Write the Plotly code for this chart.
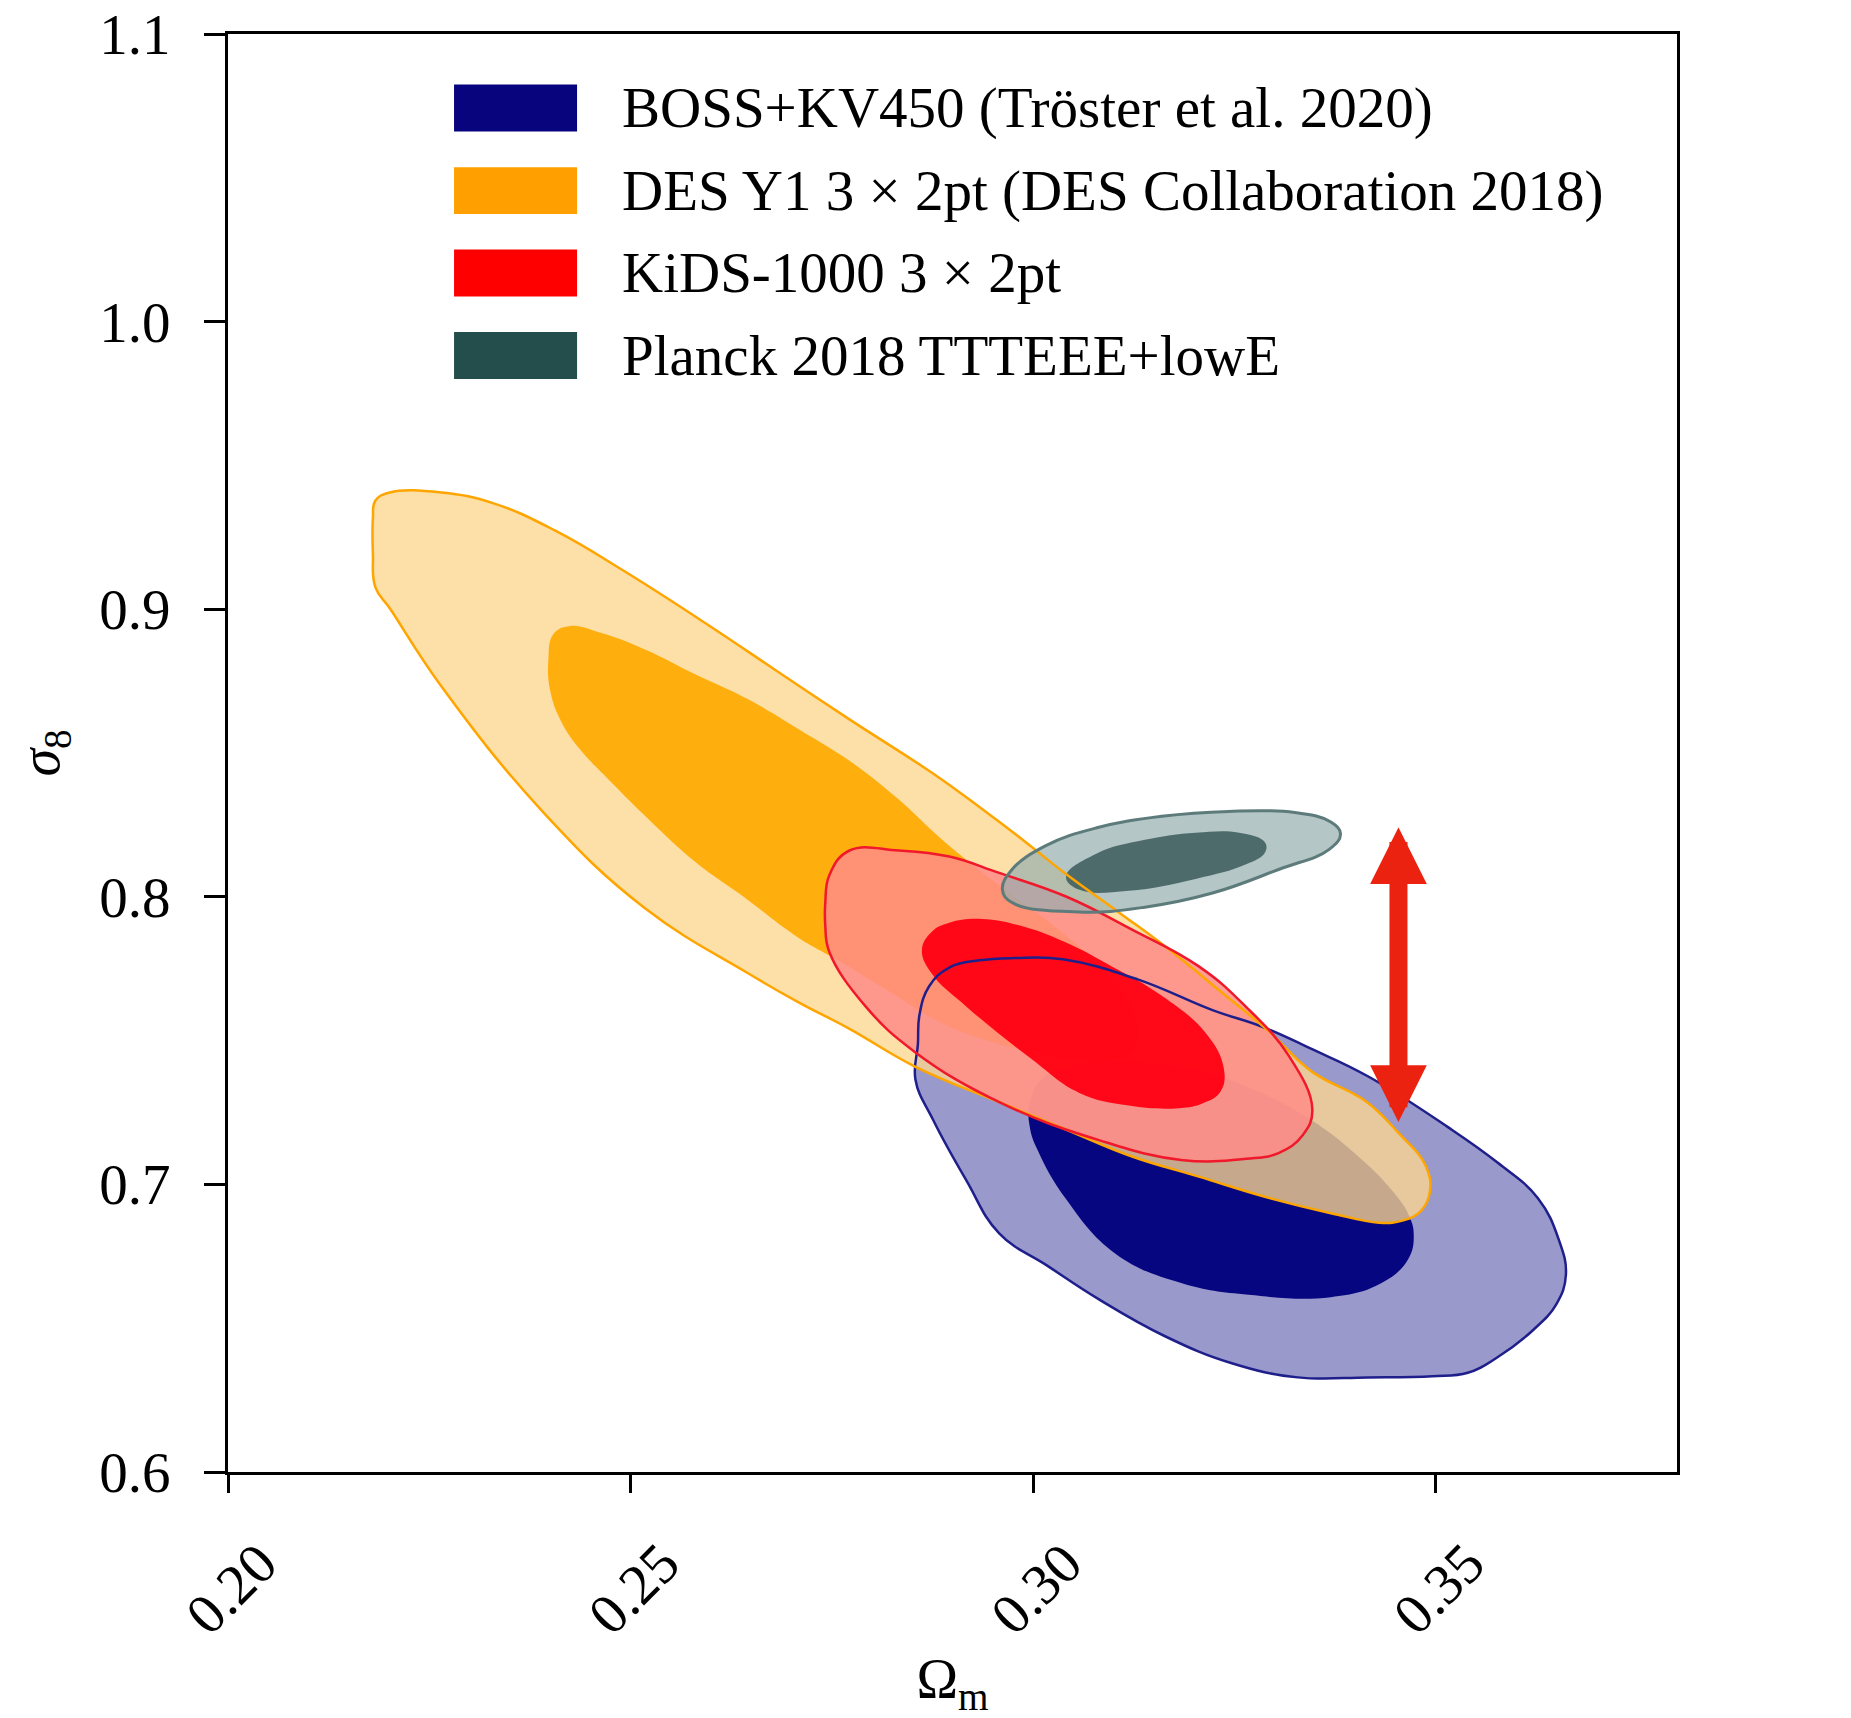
import plotly.graph_objects as go

# ---------------- data ----------------
x_ticks = [0.20, 0.25, 0.30, 0.35]
x_tick_labels = ["0.20", "0.25", "0.30", "0.35"]
y_ticks = [0.6, 0.7, 0.8, 0.9, 1.0, 1.1]
y_tick_labels = ["0.6", "0.7", "0.8", "0.9", "1.0", "1.1"]

legend_labels = [
    "BOSS+KV450 (Tröster et al. 2020)",
    "DES Y1 3 × 2pt (DES Collaboration 2018)",
    "KiDS-1000 3 × 2pt",
    "Planck 2018 TTTEEE+lowE",
]

# BOSS+KV450 contours (Omega_m, sigma_8)
boss_outer_om = [0.2854, 0.2857, 0.2859, 0.2871, 0.2896, 0.2933, 0.2977, 0.3037, 0.3130, 0.3223,
                 0.3284, 0.3346, 0.3416, 0.3515, 0.3577, 0.3627, 0.3653, 0.3662, 0.3650, 0.3621,
                 0.3577, 0.3540, 0.3496, 0.3416, 0.3329, 0.3247, 0.3164, 0.3082, 0.3019, 0.2958,
                 0.2917, 0.2876]
boss_outer_s8 = [0.7364, 0.7487, 0.7590, 0.7689, 0.7754, 0.7779, 0.7787, 0.7783, 0.7713, 0.7606,
                 0.7549, 0.7471, 0.7376, 0.7200, 0.7076, 0.6953, 0.6809, 0.6686, 0.6583, 0.6493,
                 0.6399, 0.6345, 0.6333, 0.6329, 0.6329, 0.6378, 0.6472, 0.6600, 0.6715, 0.6830,
                 0.7015, 0.7224]
boss_inner_om = [0.2996, 0.3013, 0.3057, 0.3123, 0.3196, 0.3269, 0.3343, 0.3401, 0.3445, 0.3467,
                 0.3473, 0.3466, 0.3433, 0.3370, 0.3268, 0.3184, 0.3102, 0.3041, 0.3006, 0.2996]
boss_inner_s8 = [0.7282, 0.7372, 0.7417, 0.7426, 0.7401, 0.7335, 0.7228, 0.7105, 0.6982, 0.6892,
                 0.6822, 0.6740, 0.6657, 0.6608, 0.6616, 0.6657, 0.6760, 0.6949, 0.7118, 0.7200]

# DES Y1 3x2pt contours
des_outer_om = [0.2180, 0.2180, 0.2183, 0.2201, 0.2265, 0.2329, 0.2406, 0.2493, 0.2596, 0.2684,
                0.2772, 0.2874, 0.2933, 0.2991, 0.3041, 0.3108, 0.3164, 0.3225, 0.3293, 0.3346,
                0.3413, 0.3454, 0.3488, 0.3493, 0.3482, 0.3460, 0.3430, 0.3370, 0.3288, 0.3206,
                0.3123, 0.3041, 0.2958, 0.2854, 0.2772, 0.2710, 0.2646, 0.2518, 0.2392, 0.2265,
                0.2202, 0.2183]
des_outer_s8 = [0.9192, 0.9316, 0.9377, 0.9406, 0.9406, 0.9369, 0.9274, 0.9131, 0.8946, 0.8781,
                0.8617, 0.8432, 0.8313, 0.8190, 0.8079, 0.7943, 0.7828, 0.7689, 0.7532, 0.7393,
                0.7290, 0.7179, 0.7064, 0.6974, 0.6908, 0.6875, 0.6867, 0.6900, 0.6957, 0.7027,
                0.7097, 0.7191, 0.7286, 0.7409, 0.7541, 0.7631, 0.7734, 0.7960, 0.8293, 0.8732,
                0.8999, 0.9077]
des_inner_om = [0.2400, 0.2398, 0.2404, 0.2425, 0.2464, 0.2518, 0.2581, 0.2646, 0.2713, 0.2772,
                0.2830, 0.2889, 0.2955, 0.3021, 0.3082, 0.3116, 0.3130, 0.3126, 0.3101,
                0.3050, 0.2999, 0.2896, 0.2816, 0.2758, 0.2709, 0.2640, 0.2581, 0.2523, 0.2467,
                0.2438, 0.2414]
des_inner_s8 = [0.8720, 0.8823, 0.8913, 0.8942, 0.8917, 0.8860, 0.8773, 0.8687, 0.8576, 0.8473,
                0.8346, 0.8194, 0.8046, 0.7910, 0.7763, 0.7652, 0.7541, 0.7467, 0.7434,
                0.7434, 0.7459, 0.7549, 0.7680, 0.7779, 0.7857, 0.8001, 0.8120, 0.8268, 0.8424,
                0.8510, 0.8609]

# KiDS-1000 3x2pt contours
kids_outer_om = [0.2742, 0.2747, 0.2772, 0.2833, 0.2896, 0.2958, 0.3041, 0.3123, 0.3206, 0.3264,
                 0.3318, 0.3347, 0.3335, 0.3305, 0.3265, 0.3184, 0.3082, 0.2958, 0.2854, 0.2792,
                 0.2747, 0.2742]
kids_outer_s8 = [0.7980, 0.8075, 0.8161, 0.8161, 0.8140, 0.8083, 0.8001, 0.7886, 0.7758, 0.7619,
                 0.7446, 0.7261, 0.7171, 0.7109, 0.7089, 0.7085, 0.7154, 0.7286, 0.7459, 0.7619,
                 0.7808, 0.7898]
kids_inner_om = [0.2862, 0.2874, 0.2896, 0.2937, 0.2991, 0.3041, 0.3098, 0.3160, 0.3214, 0.3237,
                 0.3233, 0.3211, 0.3182, 0.3119, 0.3057, 0.2999, 0.2917, 0.2874]
kids_inner_s8 = [0.7816, 0.7878, 0.7910, 0.7923, 0.7894, 0.7841, 0.7758, 0.7656, 0.7528, 0.7405,
                 0.7323, 0.7282, 0.7265, 0.7274, 0.7319, 0.7434, 0.7619, 0.7734]

# Planck 2018 TTTEEE+lowE contours
planck_outer_om = [0.2962, 0.2974, 0.3057, 0.3139, 0.3223, 0.3305, 0.3368, 0.3382, 0.3370, 0.3325,
                   0.3243, 0.3160, 0.3078, 0.3016, 0.2974]
planck_outer_s8 = [0.8025, 0.7980, 0.7947, 0.7964, 0.8013, 0.8095, 0.8165, 0.8219, 0.8260, 0.8293,
                   0.8297, 0.8280, 0.8239, 0.8178, 0.8095]
planck_inner_om = [0.3041, 0.3057, 0.3119, 0.3202, 0.3264, 0.3288, 0.3288, 0.3256, 0.3202, 0.3139,
                   0.3078]
planck_inner_s8 = [0.8071, 0.8025, 0.8021, 0.8062, 0.8112, 0.8153, 0.8190, 0.8223, 0.8223, 0.8198,
                   0.8149]

# tension arrow (sigma_8 offset)
arrow_om = 0.3454
arrow_s8_top = 0.8242
arrow_s8_bottom = 0.7212

# ---------------- styling ----------------
FONT = "Liberation Serif, Times New Roman, serif"

def closed(v):
    return list(v) + [v[0]]

fills = [
    (boss_outer_om, boss_outer_s8, "rgba(0,0,128,0.40)"),
    (boss_inner_om, boss_inner_s8, "rgba(3,3,127,0.98)"),
    (des_outer_om, des_outer_s8, "rgba(252,214,143,0.78)"),
    (des_inner_om, des_inner_s8, "rgba(255,170,0,0.92)"),
    (kids_outer_om, kids_outer_s8, "rgba(255,140,135,0.85)"),
    (kids_inner_om, kids_inner_s8, "rgba(255,0,18,0.95)"),
    (planck_outer_om, planck_outer_s8, "rgba(149,174,175,0.70)"),
    (planck_inner_om, planck_inner_s8, "rgba(66,97,97,0.90)"),
]
outlines = [
    (boss_outer_om, boss_outer_s8, "#1f1f8c", 2.5),
    (des_outer_om, des_outer_s8, "#ffa500", 2.5),
    (kids_outer_om, kids_outer_s8, "#f0182a", 2.5),
    (planck_outer_om, planck_outer_s8, "#5d7b7b", 3),
]

fig = go.Figure()
for xs, ys, col in fills:
    fig.add_trace(go.Scatter(
        x=closed(xs), y=closed(ys), mode="lines", fill="toself", fillcolor=col,
        line=dict(width=0, color="rgba(0,0,0,0)", shape="spline", smoothing=1.2),
        hoverinfo="skip", showlegend=False))
for xs, ys, col, w in outlines:
    fig.add_trace(go.Scatter(
        x=closed(xs), y=closed(ys), mode="lines",
        line=dict(width=w, color=col, shape="spline", smoothing=1.2),
        hoverinfo="skip", showlegend=False))

# manual legend (swatches + labels)
legend_colors = ["#07047e", "#ffa000", "#ff0000", "#244e4c"]
legend_rows = [0.9485, 0.8911, 0.8338, 0.7764]
shapes = []
annotations = []
for lab, col, yc in zip(legend_labels, legend_colors, legend_rows):
    shapes.append(dict(type="rect", xref="paper", yref="paper", x0=0.156, x1=0.2409,
                       y0=yc - 0.0163, y1=yc + 0.0163, fillcolor=col, line=dict(width=0)))
    annotations.append(dict(xref="paper", yref="paper", x=0.2705, y=yc, text=lab,
                            showarrow=False, xanchor="left", yanchor="middle",
                            font=dict(family=FONT, size=57, color="black")))

annotations.append(dict(
    x=arrow_om, y=arrow_s8_top, ax=arrow_om, ay=arrow_s8_bottom,
    xref="x", yref="y", axref="x", ayref="y", text="", showarrow=True,
    arrowside="end+start", arrowhead=2, startarrowhead=2,
    arrowsize=0.63, startarrowsize=0.63, arrowwidth=18, arrowcolor="#ec2211",
    standoff=0, startstandoff=0))

fig.update_layout(
    width=1851, height=1718,
    margin=dict(l=228, r=174, t=34, b=246),
    paper_bgcolor="white", plot_bgcolor="white",
    font=dict(family=FONT, color="black"),
    shapes=shapes, annotations=annotations,
    showlegend=False,
    xaxis=dict(range=[0.20, 0.38], tickmode="array", tickvals=x_ticks, ticktext=x_tick_labels,
               ticks="outside", ticklen=18, tickwidth=2.5, tickcolor="black",
               showline=True, linewidth=3, linecolor="black", mirror=True,
               showgrid=False, zeroline=False, tickangle=-45, ticklabelshift=32,
               ticklabelstandoff=14, automargin=False,
               tickfont=dict(family=FONT, size=57, color="black"),
               title=dict(text="Ω<sub>m</sub>", font=dict(family=FONT, size=56, color="black"),
                          standoff=54)),
    yaxis=dict(range=[0.6, 1.1], tickmode="array", tickvals=y_ticks, ticktext=y_tick_labels,
               ticks="outside", ticklen=21, tickwidth=2.5, tickcolor="black",
               showline=True, linewidth=3, linecolor="black", mirror=True,
               showgrid=False, zeroline=False, ticklabelstandoff=22, automargin=False,
               tickfont=dict(family=FONT, size=57, color="black"),
               title=dict(text="<i>σ</i><sub>8</sub>", font=dict(family=FONT, size=56, color="black"),
                          standoff=22)),
)

fig.write_html("out.html")
